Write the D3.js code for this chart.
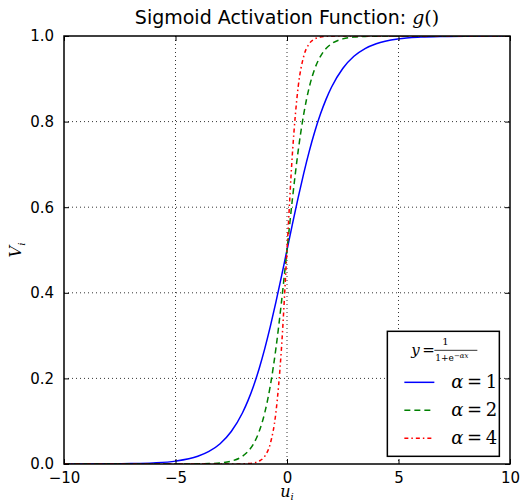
<!DOCTYPE html>
<html>
<head>
<meta charset="utf-8">
<script src="https://cdn.jsdelivr.net/npm/d3@7"></script>
<style>
  body { margin: 0; background: #fff; }
  text { fill: #000; }
</style>
</head>
<body>
<svg id="chart" width="528" height="502"></svg>
<script>
// sample points
const xs = [-10, -8, -7, -6, -5, -4, -3.5, -3, -2.5, -2, -1.75, -1.5, -1.25, -1, -0.75, -0.5, -0.25,
  0, 0.25, 0.5, 0.75, 1, 1.25, 1.5, 1.75, 2, 2.5, 3, 3.5, 4, 5, 6, 7, 8, 10];

const alpha1 = [0.0000, 0.0003, 0.0009, 0.0025, 0.0067, 0.0180, 0.0293, 0.0474, 0.0759, 0.1192, 0.1480, 0.1824, 0.2227, 0.2689, 0.3208, 0.3775, 0.4378,
  0.5, 0.5622, 0.6225, 0.6792, 0.7311, 0.7773, 0.8176, 0.8520, 0.8808, 0.9241, 0.9526, 0.9707, 0.9820, 0.9933, 0.9975, 0.9991, 0.9997, 1.0000];

const alpha2 = [0.0000, 0.0000, 0.0000, 0.0000, 0.0000, 0.0003, 0.0009, 0.0025, 0.0067, 0.0180, 0.0293, 0.0474, 0.0759, 0.1192, 0.1824, 0.2689, 0.3775,
  0.5, 0.6225, 0.7311, 0.8176, 0.8808, 0.9241, 0.9526, 0.9707, 0.9820, 0.9933, 0.9975, 0.9991, 0.9997, 1.0000, 1.0000, 1.0000, 1.0000, 1.0000];

const alpha4 = [0.0000, 0.0000, 0.0000, 0.0000, 0.0000, 0.0000, 0.0000, 0.0000, 0.0000, 0.0003, 0.0009, 0.0025, 0.0067, 0.0180, 0.0474, 0.1192, 0.2689,
  0.5, 0.7311, 0.8808, 0.9526, 0.9820, 0.9933, 0.9975, 0.9991, 0.9997, 1.0000, 1.0000, 1.0000, 1.0000, 1.0000, 1.0000, 1.0000, 1.0000, 1.0000];

const series = [
  { label: '1', values: alpha1, color: '#0000ff', dash: null },
  { label: '2', values: alpha2, color: '#008000', dash: '6,4' },
  { label: '4', values: alpha4, color: '#ff0000', dash: '4,3,1.5,3' }
];

const xTicks = [-10, -5, 0, 5, 10];
const yTicks = [0.0, 0.2, 0.4, 0.6, 0.8, 1.0];

const margin = { top: 36, right: 18, bottom: 38, left: 64 };
const width = 528 - margin.left - margin.right;
const height = 502 - margin.top - margin.bottom;

const svg = d3.select('#chart');
const g = svg.append('g').attr('transform', `translate(${margin.left},${margin.top})`);

const x = d3.scaleLinear().domain([-10, 10]).range([0, width]);
const y = d3.scaleLinear().domain([0, 1]).range([height, 0]);

// grid
g.append('g').selectAll('line')
  .data(xTicks.slice(1, -1))
  .enter().append('line')
  .attr('x1', d => x(d)).attr('x2', d => x(d))
  .attr('y1', 0).attr('y2', height)
  .attr('stroke', '#000').attr('stroke-width', 0.8)
  .attr('stroke-dasharray', '1,3');
g.append('g').selectAll('line')
  .data(yTicks.slice(1, -1))
  .enter().append('line')
  .attr('x1', 0).attr('x2', width)
  .attr('y1', d => y(d)).attr('y2', d => y(d))
  .attr('stroke', '#000').attr('stroke-width', 0.8)
  .attr('stroke-dasharray', '1,3');

// curves
const line = d3.line()
  .x((d, i) => x(xs[i]))
  .y(d => y(d))
  .curve(d3.curveMonotoneX);

g.append('defs').append('clipPath').attr('id', 'clip')
  .append('rect').attr('width', width).attr('height', height);

g.append('g').attr('clip-path', 'url(#clip)')
  .selectAll('path')
  .data(series)
  .enter().append('path')
  .attr('d', d => line(d.values))
  .attr('fill', 'none')
  .attr('stroke', d => d.color)
  .attr('stroke-width', 1.5)
  .attr('stroke-dasharray', d => d.dash);

// axes, ticks inside on all sides
const fmtY = d3.format('.1f');
const axBottom = g.append('g').attr('transform', `translate(0,${height})`)
  .call(d3.axisBottom(x).tickValues(xTicks).tickSize(-5).tickPadding(5).tickFormat(d => d < 0 ? '\u2212' + Math.abs(d) : d));
const axTop = g.append('g').call(d3.axisTop(x).tickValues(xTicks).tickSize(-5).tickFormat(''));
const axLeft = g.append('g')
  .call(d3.axisLeft(y).tickValues(yTicks).tickSize(-5).tickPadding(10).tickFormat(fmtY));
const axRight = g.append('g').attr('transform', `translate(${width},0)`)
  .call(d3.axisRight(y).tickValues(yTicks).tickSize(-5).tickFormat(''));

[axBottom, axTop, axLeft, axRight].forEach(a => {
  a.select('.domain').remove();
  a.selectAll('.tick line').attr('stroke', '#000').attr('stroke-width', 1);
  a.selectAll('.tick text')
    .attr('font-family', 'DejaVu Sans, sans-serif')
    .attr('font-size', 15)
    .attr('fill', '#000');
});
axBottom.selectAll('.tick text').attr('dy', '0.9em');

g.append('rect')
  .attr('width', width).attr('height', height)
  .attr('fill', 'none').attr('stroke', '#000').attr('stroke-width', 1.5);

// title
const title = svg.append('text')
  .attr('x', margin.left + width / 2).attr('y', 24)
  .attr('text-anchor', 'middle')
  .attr('font-family', 'DejaVu Sans, sans-serif')
  .attr('font-size', 19);
title.append('tspan').text('Sigmoid Activation Function: ');
title.append('tspan').attr('font-family', 'DejaVu Serif, serif').attr('font-style', 'italic').text('g');
title.append('tspan').attr('font-family', 'DejaVu Serif, serif').text('()');

// axis labels
const ylab = svg.append('text')
  .attr('transform', `translate(21,${margin.top + height / 2}) rotate(-90)`)
  .attr('text-anchor', 'middle')
  .attr('font-family', 'DejaVu Serif, serif').attr('font-style', 'italic').attr('font-size', 16);
ylab.append('tspan').text('V');
ylab.append('tspan').attr('font-size', 10).attr('dy', 4).text('i');

const xlab = svg.append('text')
  .attr('x', margin.left + width / 2).attr('y', 497)
  .attr('text-anchor', 'middle')
  .attr('font-family', 'DejaVu Serif, serif').attr('font-style', 'italic').attr('font-size', 16);
xlab.append('tspan').text('u');
xlab.append('tspan').attr('font-size', 10).attr('dy', 3).text('i');

// legend
const leg = g.append('g').attr('transform', `translate(${x(4.5)},${y(0.31)})`);
leg.append('rect')
  .attr('width', 112).attr('height', 125)
  .attr('fill', '#fff').attr('stroke', '#000').attr('stroke-width', 1.5);

const form = leg.append('g').attr('font-family', 'DejaVu Serif, serif');
form.append('text').attr('x', 24).attr('y', 24).attr('font-style', 'italic').attr('font-size', 15).text('y');
form.append('text').attr('x', 35).attr('y', 24).attr('font-size', 15).text('=');
form.append('text').attr('x', 58).attr('y', 14).attr('text-anchor', 'middle').attr('font-size', 10).text('1');
form.append('line').attr('x1', 47).attr('x2', 90).attr('y1', 19).attr('y2', 19).attr('stroke', '#000').attr('stroke-width', 0.8);
const den = form.append('text').attr('x', 48).attr('y', 30).attr('font-size', 9);
den.append('tspan').text('1+e');
den.append('tspan').attr('dy', -3).attr('font-size', 7).attr('font-style', 'italic').text('\u2212\u03b1x');

const rows = leg.selectAll('.row')
  .data(series)
  .enter().append('g')
  .attr('class', 'row')
  .attr('transform', (d, i) => `translate(0,${51 + i * 28})`);
rows.append('line')
  .attr('x1', 17).attr('x2', 47)
  .attr('stroke', d => d.color).attr('stroke-width', 1.5)
  .attr('stroke-dasharray', d => d.dash);
const lt = rows.append('text')
  .attr('x', 64).attr('y', 6)
  .attr('font-family', 'DejaVu Serif, serif').attr('font-size', 18);
lt.append('tspan').attr('font-style', 'italic').text('\u03b1');
lt.append('tspan').text(d => '\u2009=\u2009' + d.label);
</script>
</body>
</html>
